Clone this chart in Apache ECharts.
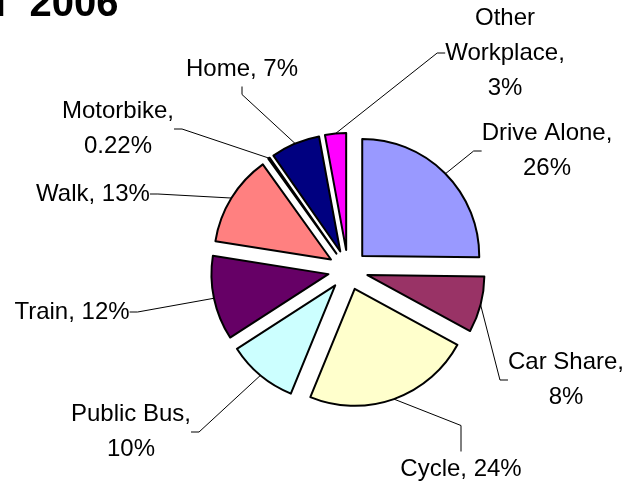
<!DOCTYPE html>
<html><head><meta charset="utf-8">
<script src="https://cdn.jsdelivr.net/npm/echarts@6/dist/echarts.min.js"></script>
<style>html,body{margin:0;padding:0;background:#fff}#c{width:629px;height:485px}</style>
</head><body><div id="c"></div>
<script>
// Data
const categories = ['Drive Alone', 'Car Share', 'Cycle', 'Public Bus', 'Train', 'Walk', 'Motorbike', 'Home', 'Other Workplace'];
const values = [26, 8, 24, 10, 12, 13, 0.22, 7, 3];
const labelTexts = ['Drive Alone,\n26%', 'Car Share,\n8%', 'Cycle, 24%', 'Public Bus,\n10%', 'Train, 12%', 'Walk, 13%', 'Motorbike,\n0.22%', 'Home, 7%', 'Other\nWorkplace,\n3%'];
const titleText = 'f  2006';

// Styles / layout
const colors = ['#9999FF', '#993366', '#FFFFCC', '#CCFFFF', '#660066', '#FF8080', '#0066CC', '#000080', '#FF00FF'];
const labelCenters = [[547, 151], [566, 380], [461, 469], [131, 432], [72, 312], [93, 194], [118, 129], [242, 69], [505, 53]];
const leaderLength2 = [8, 8, 26, 8, 8, 8, 8, 8, 8];
const FONT = '"Liberation Sans", Arial, sans-serif';
const CX = 348, CY = 270, R = 117, EXPLODE = 20;

// Exploded pie: one pie series per slice, each shifted outward along its own bisector
const total = values.reduce((a, b) => a + b, 0);
let acc = 0;
const series = categories.map((name, i) => {
  const mid = (acc + values[i] / 2) / total * 2 * Math.PI;
  acc += values[i];
  return {
    type: 'pie',
    center: [CX + EXPLODE * Math.sin(mid), CY - EXPLODE * Math.cos(mid)],
    radius: R,
    startAngle: 90,
    clockwise: true,
    silent: true,
    avoidLabelOverlap: false,
    animation: false,
    emphasis: { disabled: true },
    label: {
      show: true,
      position: 'outside',
      formatter: p => labelTexts[p.dataIndex],
      fontFamily: FONT,
      fontSize: 24,
      lineHeight: 35,
      color: '#000',
      align: 'center'
    },
    labelLine: { show: true, length: 10, length2: leaderLength2[i], lineStyle: { color: '#000', width: 1 } },
    labelLayout: function (p) {
      if (p.dataIndex !== i) return {};
      const c = labelCenters[p.dataIndex];
      return { x: c[0], y: c[1], align: 'center', verticalAlign: 'middle' };
    },
    data: categories.map((n, j) => ({
      name: n,
      value: values[j],
      itemStyle: j === i
        ? { color: colors[j], borderColor: '#000', borderWidth: 2 }
        : { color: 'rgba(0,0,0,0)', borderWidth: 0 },
      label: { show: j === i },
      labelLine: { show: j === i }
    }))
  };
});

const chart = echarts.init(document.getElementById('c'), null, { renderer: 'canvas' });
chart.setOption({
  animation: false,
  backgroundColor: '#fff',
  title: {
    text: titleText,
    left: -6,
    top: -15,
    padding: 0,
    textStyle: { fontFamily: FONT, fontSize: 40, fontWeight: 'bold', color: '#000' }
  },
  series: series
});
</script></body></html>
